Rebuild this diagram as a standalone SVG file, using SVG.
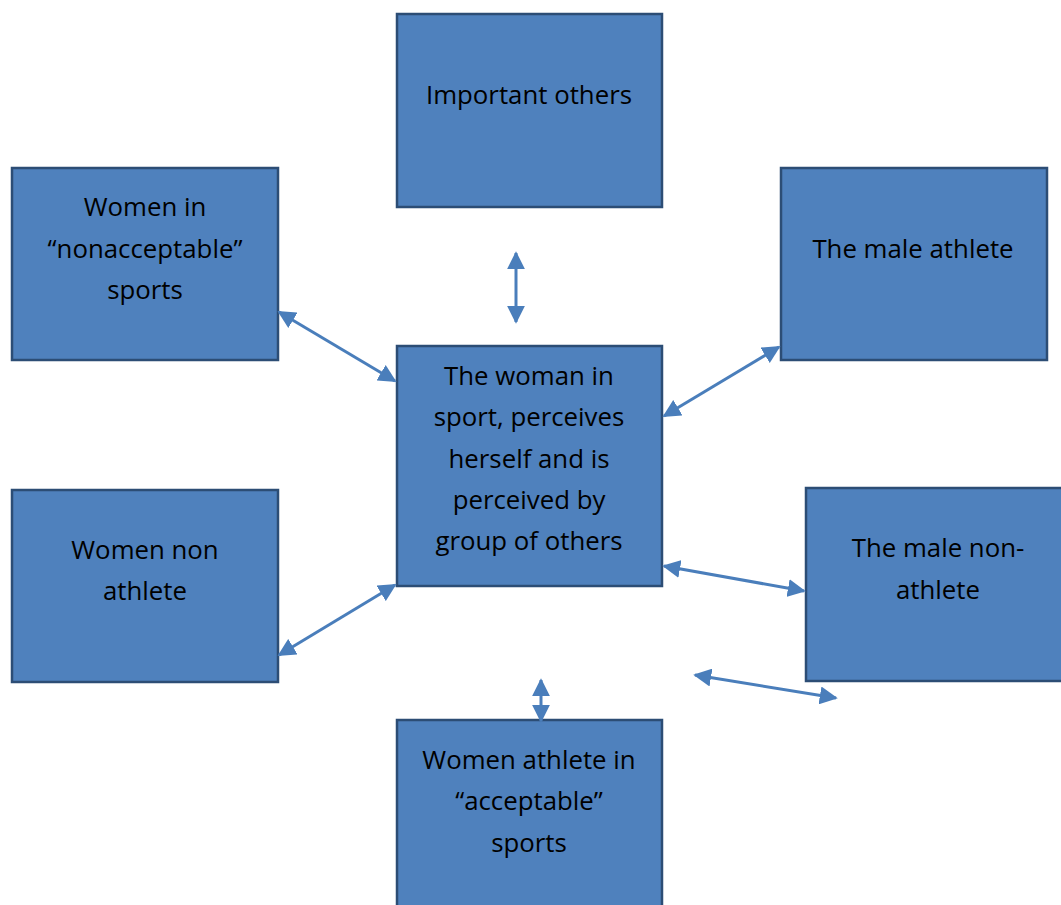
<svg xmlns="http://www.w3.org/2000/svg" width="1061" height="905" viewBox="0 0 1061 905">
<style>
.box{fill:#4f81bd;stroke:#2c4d75;stroke-width:2.5}
.t{font-family:"Open Sans","Liberation Sans",sans-serif;font-size:25.8px;fill:#000;text-anchor:middle}
.c{stroke:#4a7ebb;stroke-width:3;fill:none;marker-start:url(#a);marker-end:url(#a)}
</style>
<defs>
<marker id="a" viewBox="0 0 10 10" refX="9" refY="5" markerWidth="6" markerHeight="6" markerUnits="strokeWidth" orient="auto-start-reverse">
<path d="M0,0 L10,5 L0,10 Z" fill="#4a7ebb"/>
</marker>
</defs>
<rect width="1061" height="905" fill="#fff"/>
<g id="important-others"><rect class="box" x="397" y="14" width="265" height="193"/><text class="t" x="529" y="104">Important others</text></g>
<g id="women-nonacceptable"><rect class="box" x="12" y="168" width="266" height="192"/><text class="t" x="145" y="216">Women in</text><text class="t" x="145" y="258">“nonacceptable”</text><text class="t" x="145" y="299">sports</text></g>
<g id="male-athlete"><rect class="box" x="781" y="168" width="266" height="192"/><text class="t" x="913" y="258">The male athlete</text></g>
<g id="center"><rect class="box" x="397" y="346" width="265" height="240"/><text class="t" x="529" y="385">The woman in</text><text class="t" x="529" y="426">sport, perceives</text><text class="t" x="529" y="468">herself and is</text><text class="t" x="529" y="509">perceived by</text><text class="t" x="529" y="550">group of others</text></g>
<g id="women-non-athlete"><rect class="box" x="12" y="490" width="266" height="192"/><text class="t" x="145" y="559">Women non</text><text class="t" x="145" y="600">athlete</text></g>
<g id="male-non-athlete"><rect class="box" x="806" y="488" width="266" height="193"/><text class="t" x="938" y="557">The male non-</text><text class="t" x="938" y="599">athlete</text></g>
<g id="women-acceptable"><rect class="box" x="397" y="720" width="265" height="200"/><text class="t" x="529" y="769">Women athlete in</text><text class="t" x="529" y="810">“acceptable”</text><text class="t" x="529" y="852">sports</text></g>
<g id="connectors">
<line class="c" x1="516" y1="253" x2="516" y2="322"/>
<line class="c" x1="279" y1="312" x2="395" y2="381"/>
<line class="c" x1="664" y1="416" x2="779" y2="347"/>
<line class="c" x1="279" y1="655" x2="395" y2="585"/>
<line class="c" x1="664" y1="566" x2="804" y2="591"/>
<line class="c" x1="695" y1="675" x2="836" y2="698"/>
<line class="c" x1="541" y1="680" x2="541" y2="721"/>
</g>
</svg>
